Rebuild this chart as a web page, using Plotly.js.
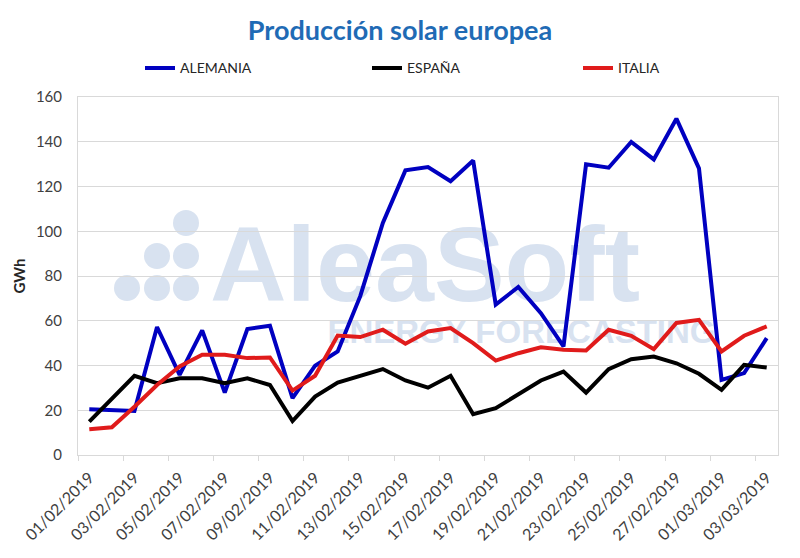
<!DOCTYPE html>
<html>
<head>
<meta charset="utf-8">
<script src="https://cdn.plot.ly/plotly-3.0.1.min.js"></script>
<style>html,body{margin:0;padding:0;background:#fff;}#chart{width:800px;height:558px;}</style>
</head>
<body>
<div id="chart"></div>
<script>
const dates = [
  "2019-02-01","2019-02-02","2019-02-03","2019-02-04","2019-02-05","2019-02-06","2019-02-07",
  "2019-02-08","2019-02-09","2019-02-10","2019-02-11","2019-02-12","2019-02-13","2019-02-14",
  "2019-02-15","2019-02-16","2019-02-17","2019-02-18","2019-02-19","2019-02-20","2019-02-21",
  "2019-02-22","2019-02-23","2019-02-24","2019-02-25","2019-02-26","2019-02-27","2019-02-28",
  "2019-03-01","2019-03-02","2019-03-03"
];
const alemania = [20.4,20.0,19.7,57.2,35.8,55.7,27.9,56.3,57.8,25.4,39.9,46.3,71,103.7,127.2,
  128.7,122.4,131.6,67.2,75.1,63.4,48.5,129.9,128.4,139.9,132.1,150.3,128.1,33.6,36.6,52.2];
const espana = [14.9,25.4,35.4,32.1,34.3,34.3,32.1,34.3,31.3,15.2,26.1,32.4,35.4,38.4,33.3,
  30.1,35.4,18.2,20.9,27.3,33.3,37.3,27.9,38.4,42.8,44.0,41.0,36.3,29.1,40.3,39.1];
const italia = [11.5,12.4,21.6,31.3,39.6,44.8,44.8,43.3,43.6,28.8,35.4,53.4,52.7,56.0,49.7,
  55.2,56.7,50.0,42.2,45.5,48.1,47.0,46.7,56.0,53.3,47.3,59.0,60.4,46.3,53.3,57.5];
const seriesNames = ["ALEMANIA","ESPAÑA","ITALIA"];
const yTicks = [0,20,40,60,80,100,120,140,160];

const labelDates = dates.filter((d,i)=>i%2===0);
const labelText = labelDates.map(d=>{const p=d.split("-");return p[2]+"/"+p[1]+"/"+p[0];});

const fontFam = "Lato, 'Open Sans', sans-serif";
const traces = [
  {x:dates,y:alemania,name:seriesNames[0],mode:"lines",line:{color:"#0000C0",width:4},legend:"legend"},
  {x:dates,y:espana,name:seriesNames[1],mode:"lines",line:{color:"#000000",width:4},legend:"legend2"},
  {x:dates,y:italia,name:seriesNames[2],mode:"lines",line:{color:"#E01B1B",width:4},legend:"legend3"}
];

const wm = "#d8e2f0";
function dot(px,py,r){
  return {type:"circle",xref:"paper",yref:"paper",xsizemode:"pixel",ysizemode:"pixel",
    xanchor:(px-78)/700,yanchor:(455-py)/358,x0:-r,x1:r,y0:-r,y1:r,
    fillcolor:wm,line:{width:0},layer:"below"};
}
const legendCommon = {orientation:"h",yanchor:"middle",y:1.08,xanchor:"left",
  font:{family:fontFam,size:14,color:"#262626"},itemwidth:30,bgcolor:"rgba(0,0,0,0)"};

const layout = {
  width:800,height:558,
  margin:{l:78,r:22,t:97,b:103},
  paper_bgcolor:"#ffffff",plot_bgcolor:"rgba(0,0,0,0)",
  title:{text:"<b>Producción solar europea</b>",font:{family:fontFam,size:27,color:"#1F6BB5"},
    x:0.5,xanchor:"center",y:0.945,yanchor:"middle"},
  showlegend:true,
  legend:Object.assign({},legendCommon,{x:(140-78)/700}),
  legend2:Object.assign({},legendCommon,{x:(367-78)/700}),
  legend3:Object.assign({},legendCommon,{x:(578-78)/700}),
  xaxis:{type:"date",range:["2019-01-31 12:00","2019-03-03 12:00"],
    tickmode:"array",tickvals:labelDates,ticktext:labelText,tickangle:-45,
    ticks:"",showgrid:false,zeroline:false,ticklabelstandoff:6,
    tickfont:{family:fontFam,size:16,color:"#404040"},
    showline:true,linecolor:"#d9d9d9",linewidth:1,mirror:true,
    minor:{ticks:"outside",ticklen:5,tickcolor:"#d9d9d9",tick0:"2019-01-31 12:00",dtick:172800000,showgrid:false}
  },
  yaxis:{range:[0,160],tickmode:"array",tickvals:yTicks,ticks:"",
    showgrid:true,gridcolor:"#d9d9d9",gridwidth:1,zeroline:false,
    showline:true,linecolor:"#d9d9d9",linewidth:1,mirror:true,
    ticklabelstandoff:12,
    tickfont:{family:fontFam,size:15,color:"#404040"},
    title:{text:"<b>GWh</b>",font:{family:fontFam,size:15,color:"#262626"},standoff:6}
  },
  shapes:[
    dot(186,223,13),dot(157,256,13),dot(186,256,13),dot(127,288,13),dot(157,288,13),dot(186,288,13),
    {type:"rect",xref:"paper",yref:"paper",x0:(205-78)/700,x1:(645-78)/700,y0:(455-301)/358,y1:(455-206)/358,
      line:{width:0},fillcolor:"rgba(0,0,0,0)",layer:"below",
      label:{text:"<b>AleaSoft</b>",textposition:"middle center",font:{family:"Liberation Sans, Arial",size:106,color:wm}}},
    {type:"rect",xref:"paper",yref:"paper",x0:(318-78)/700,x1:(725-78)/700,y0:(455-344)/358,y1:(455-312)/358,
      line:{width:0},fillcolor:"rgba(0,0,0,0)",layer:"below",
      label:{text:"<b>ENERGY FORECASTING</b>",textposition:"middle center",font:{family:"Liberation Sans, Arial",size:33,color:wm}}}
  ]
};
Plotly.newPlot("chart",traces,layout,{displayModeBar:false,staticPlot:true});
</script>
</body>
</html>
